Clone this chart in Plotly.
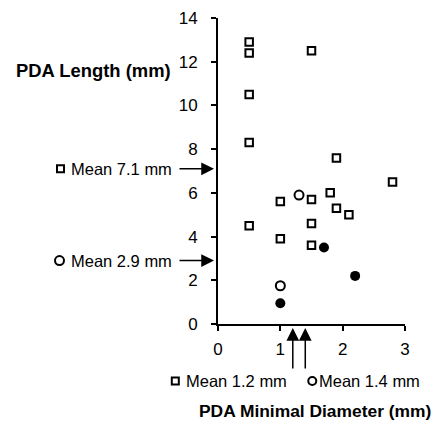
import plotly.graph_objects as go

# Data
sq_x = [0.5, 0.5, 0.5, 0.5, 0.5, 1.5, 1.9, 2.8, 1.0, 1.5, 1.8, 1.9, 2.1, 1.5, 1.0, 1.5]
sq_y = [12.9, 12.4, 10.5, 8.3, 4.5, 12.5, 7.6, 6.5, 5.6, 5.7, 6.0, 5.3, 5.0, 4.6, 3.9, 3.6]
open_x = [1.3, 1.0]
open_y = [5.9, 1.75]
filled_x = [1.7, 2.2, 1.0]
filled_y = [3.5, 2.2, 0.95]

mean_len_sq = 7.1
mean_len_circ = 2.9
mean_diam_sq = 1.2
mean_diam_circ = 1.4

x_range = [0, 3]
y_range = [0, 14]
x_ticks = [0, 1, 2, 3]
y_ticks = [0, 2, 4, 6, 8, 10, 12, 14]

FONT = "Liberation Sans, Arial, sans-serif"

fig = go.Figure()
fig.add_trace(go.Scatter(x=sq_x, y=sq_y, mode="markers", cliponaxis=False,
                         marker=dict(symbol="square", size=7.5, color="white",
                                     line=dict(color="black", width=2))))
fig.add_trace(go.Scatter(x=open_x, y=open_y, mode="markers", cliponaxis=False,
                         marker=dict(symbol="circle", size=9, color="white",
                                     line=dict(color="black", width=2))))
fig.add_trace(go.Scatter(x=filled_x, y=filled_y, mode="markers", cliponaxis=False,
                         marker=dict(symbol="circle", size=10, color="black",
                                     line=dict(color="black", width=0))))

arrow = dict(showarrow=True, arrowhead=2, arrowsize=1.7, arrowwidth=1.5,
             arrowcolor="black", standoff=4, text="")
annotations = []
# y-axis mean arrows
for v in (mean_len_sq, mean_len_circ):
    annotations.append(dict(x=0, y=v, xref="x", yref="y", ax=-40, ay=0, **arrow))
# x-axis mean arrows
for v in (mean_diam_sq, mean_diam_circ):
    annotations.append(dict(x=v, y=0, xref="x", yref="y", ax=0, ay=46, **arrow))

tfont = dict(family=FONT, size=16.5, color="black")
annotations += [
    dict(x=0, y=mean_len_sq, xref="x", yref="y", xanchor="right", yanchor="middle",
         xshift=-44, text=f"Mean {mean_len_sq} mm", showarrow=False, font=tfont),
    dict(x=0, y=mean_len_circ, xref="x", yref="y", xanchor="right", yanchor="middle",
         xshift=-44, text=f"Mean {mean_len_circ} mm", showarrow=False, font=tfont),
    dict(x=mean_diam_sq, y=0, xref="x", yref="y", xanchor="right", yanchor="middle",
         xshift=-4, yshift=-57, text=f"Mean {mean_diam_sq} mm", showarrow=False, font=tfont),
    dict(x=mean_diam_circ, y=0, xref="x", yref="y", xanchor="left", yanchor="middle",
         xshift=12, yshift=-57, text=f"Mean {mean_diam_circ} mm", showarrow=False, font=tfont),
    dict(x=-0.665, y=0.830, xref="paper", yref="paper", xanchor="center", yanchor="middle",
         text="<b>PDA Length (mm)</b>", showarrow=False,
         font=dict(family=FONT, size=18.4, color="black")),
    dict(x=0.52, y=-0.284, xref="paper", yref="paper", xanchor="center", yanchor="middle",
         text="<b>PDA Minimal Diameter (mm)</b>", showarrow=False,
         font=dict(family=FONT, size=17.4, color="black")),
]

# legend-like glyphs next to the mean labels (paper refs so they are not clipped)
sline = dict(color="black", width=2)
px = lambda v, r: (v - r[0]) / (r[1] - r[0])
shapes = [
    dict(type="rect", xref="paper", yref="paper", xsizemode="pixel", ysizemode="pixel",
         xanchor=0, yanchor=px(mean_len_sq, y_range), x0=-161, x1=-154, y0=-3.5, y1=3.5,
         line=sline, fillcolor="white"),
    dict(type="circle", xref="paper", yref="paper", xsizemode="pixel", ysizemode="pixel",
         xanchor=0, yanchor=px(mean_len_circ, y_range), x0=-163, x1=-154, y0=-4.5, y1=4.5,
         line=sline, fillcolor="white"),
    dict(type="rect", xref="paper", yref="paper", xsizemode="pixel", ysizemode="pixel",
         xanchor=px(mean_diam_sq, x_range), yanchor=0, x0=-121, x1=-114, y0=-60.5, y1=-53.5,
         line=sline, fillcolor="white"),
    dict(type="circle", xref="paper", yref="paper", xsizemode="pixel", ysizemode="pixel",
         xanchor=px(mean_diam_circ, x_range), yanchor=0, x0=3, x1=11, y0=-61, y1=-53,
         line=sline, fillcolor="white"),
]

fig.update_layout(
    width=434, height=414,
    margin=dict(l=210, r=37, t=10, b=98, autoexpand=False),
    plot_bgcolor="white", paper_bgcolor="white",
    showlegend=False,
    annotations=annotations, shapes=shapes,
    font=dict(family=FONT, color="black"),
)
axis_common = dict(showgrid=False, zeroline=False, showline=True, linecolor="black",
                   linewidth=2, ticks="outside", ticklen=5, tickwidth=1.5,
                   tickcolor="black", tickfont=dict(family=FONT, size=17, color="black"))
fig.update_xaxes(range=x_range, tickvals=x_ticks, ticklabelstandoff=4, **axis_common)
fig.update_yaxes(range=y_range, tickvals=y_ticks, ticklabelstandoff=10, **axis_common)

fig.write_html("out.html")
